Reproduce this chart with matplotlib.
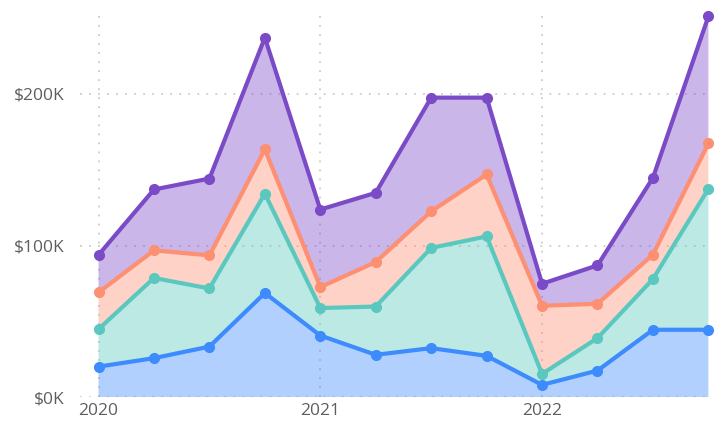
import numpy as np
import matplotlib
matplotlib.use("Agg")
import matplotlib.pyplot as plt

# quarterly values, 2020 Q1 .. 2022 Q4 (in $K)
quarters = list(range(12))
year_ticks = [0, 4, 8]
year_labels = ["2020", "2021", "2022"]

blue = [20.3, 25.9, 33.5, 68.8, 40.8, 28.1, 32.5, 27.4, 8.3, 17.7, 44.6, 44.6]
teal = [24.7, 52.8, 38.3, 65.5, 18.1, 31.8, 66.0, 78.7, 7.2, 21.4, 33.4, 92.8]
salmon = [24.2, 18.2, 21.8, 29.1, 13.8, 29.3, 24.1, 40.8, 44.9, 22.6, 16.1, 29.9]
purple = [24.7, 40.1, 50.6, 73.6, 51.1, 45.6, 74.9, 50.6, 14.5, 25.3, 50.6, 83.7]

series = [blue, teal, salmon, purple]
colors = ["#3d8bfd", "#5ac8bf", "#fd8f72", "#7b4ac7"]

plt.rcParams['font.family'] = ['Open Sans', 'DejaVu Sans']

fig = plt.figure(figsize=(7.18, 4.26), dpi=100)
ax = fig.add_axes([0.111, 0.067, 0.881, 0.898])

ax.stackplot(quarters, *series, colors=colors, alpha=0.4, linewidth=0)

cum = np.cumsum(np.array(series), axis=0)
for top, c in zip(cum, colors):
    ax.plot(quarters, top, color=c, lw=3, marker="o", markersize=7,
            solid_joinstyle="round", clip_on=False)

ax.set_xlim(-0.34, 11.07)
ax.set_ylim(0, 252)
ax.set_yticks([0, 100, 200])
ax.set_yticklabels(["$0K", "$100K", "$200K"])
ax.set_xticks(year_ticks)
ax.set_xticklabels(year_labels)

ax.grid(True, color="#cccccc", linestyle=(0, (1, 4)), linewidth=1.3)
ax.set_axisbelow(True)
for s in ax.spines.values():
    s.set_visible(False)
ax.tick_params(length=0, labelsize=12.5, colors="#605e5c")
ax.tick_params(axis="y", pad=11)
ax.tick_params(axis="x", pad=4)

fig.savefig("out.png", dpi=100)
